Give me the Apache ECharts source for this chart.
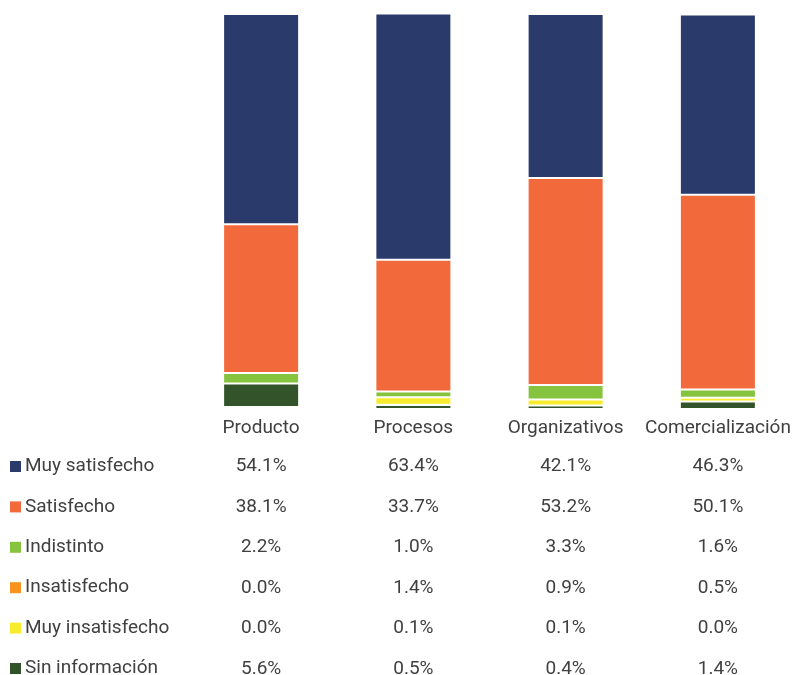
<!DOCTYPE html>
<html><head><meta charset="utf-8">
<script src="https://cdn.jsdelivr.net/npm/echarts@6/dist/echarts.min.js"></script>
<style>html,body{margin:0;padding:0;background:#fff}#c{width:793px;height:675px}</style>
</head><body><div id="c"></div>
<script>
var categories = ['Producto', 'Procesos', 'Organizativos', 'Comercialización'];
var muySatisfecho = [54.1, 63.4, 42.1, 46.3];
var satisfecho = [38.1, 33.7, 53.2, 50.1];
var indistinto = [2.2, 1.0, 3.3, 1.6];
var insatisfecho = [0.0, 1.4, 0.9, 0.5];
var muyInsatisfecho = [0.0, 0.1, 0.1, 0.0];
var sinInformacion = [5.6, 0.5, 0.4, 1.4];

// table rows (top to bottom) = stack order top to bottom
var rows = [
  {name: 'Muy satisfecho', data: muySatisfecho, bar: '#293A6B', key: '#293A6B'},
  {name: 'Satisfecho', data: satisfecho, bar: '#F26A3C', key: '#F26A3C'},
  {name: 'Indistinto', data: indistinto, bar: '#86C440', key: '#86C440'},
  {name: 'Insatisfecho', data: insatisfecho, bar: '#F7EC2D', key: '#F7941D'},
  {name: 'Muy insatisfecho', data: muyInsatisfecho, bar: '#F7EC2D', key: '#F7EC2D'},
  {name: 'Sin información', data: sinInformacion, bar: '#33532A', key: '#33532A'}
];

var textColor = '#404040';
var font = 'Roboto';
var fs = 19;
var BAR_W = 74, GAP = 2;

var xAxes = [{
  type: 'category', data: categories, position: 'bottom',
  axisLine: {show: false}, axisTick: {show: false},
  axisLabel: {color: textColor, fontSize: fs, fontFamily: font, margin: 18.5, interval: 0}
}];
rows.forEach(function (r, i) {
  xAxes.push({
    type: 'category', data: categories, position: 'bottom', offset: 38.5 + i * 40.5,
    axisLine: {show: false}, axisTick: {show: false},
    axisLabel: {
      color: textColor, fontSize: fs, fontFamily: font, margin: 18.5, interval: 0,
      formatter: (function (d) { return function (v, idx) { return d[idx].toFixed(1) + '%'; }; })(r.data)
    }
  });
});

// segments are laid out from the top of the stack downward, with a white gap
// between neighbouring segments of different colour
var series = rows.map(function (r, ri) {
  return {
    name: r.name, type: 'custom',
    data: r.data.map(function (v, i) { return [i, v]; }),
    encode: {x: 0, y: 1},
    itemStyle: {color: r.bar},
    renderItem: function (params, api) {
      var idx = api.value(0);
      var val = r.data[idx];
      if (!(val > 0)) return null;
      var total = 0;
      rows.forEach(function (q) { total += q.data[idx]; });
      var above = 0, gaps = 0, prevColor = null;
      for (var k = 0; k < ri; k++) {
        var v = rows[k].data[idx];
        if (v > 0) {
          if (prevColor !== null && prevColor !== rows[k].bar) gaps++;
          prevColor = rows[k].bar;
          above += v;
        }
      }
      if (prevColor !== null && prevColor !== r.bar) gaps++;
      var pTop = api.coord([idx, total - above]);
      var pBot = api.coord([idx, total - above - val]);
      var y = pTop[1] + gaps * GAP;
      return {
        type: 'rect',
        shape: {x: pTop[0] - BAR_W / 2, y: y, width: BAR_W, height: pBot[1] - pTop[1]},
        style: {fill: r.bar}
      };
    }
  };
});

var chart = echarts.init(document.getElementById('c'), null, {renderer: 'canvas'});
chart.setOption({
  animation: false,
  backgroundColor: '#ffffff',
  grid: {left: 185, right: -1, top: 15, bottom: 275, containLabel: false, outerBoundsMode: 'none'},
  xAxis: xAxes,
  yAxis: {type: 'value', min: 0, max: 100, show: false, splitLine: {show: false}},
  legend: {
    orient: 'vertical', left: 10, top: 457, height: 240, padding: 0,
    itemWidth: 11, itemHeight: 11, itemGap: 21.4, icon: 'rect',
    selectedMode: false,
    textStyle: {color: textColor, fontSize: fs, fontFamily: font, lineHeight: fs, padding: [0, 0, 0, -1]},
    data: rows.map(function (r) { return {name: r.name, itemStyle: {color: r.key}}; })
  },
  series: series
});
</script></body></html>
